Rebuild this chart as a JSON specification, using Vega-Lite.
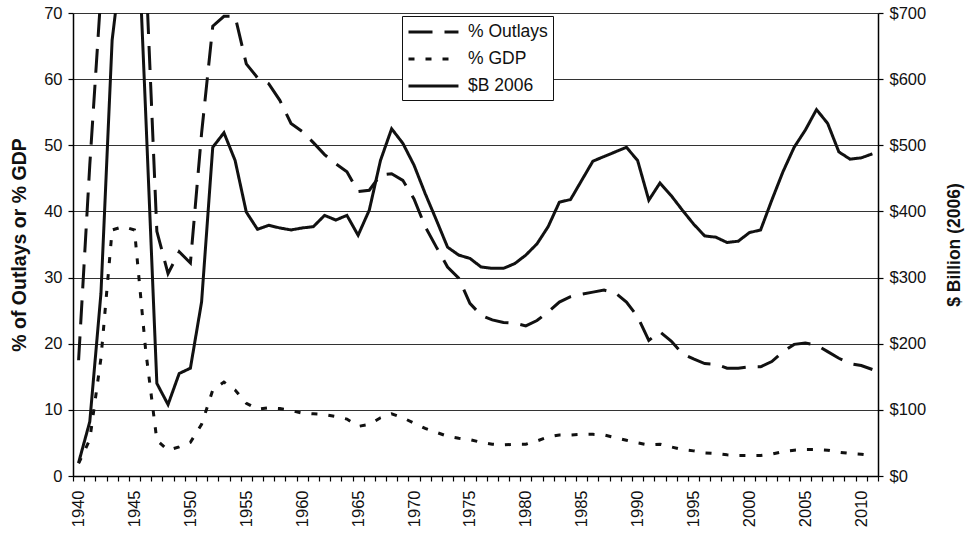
{
  "$schema": "https://vega.github.io/schema/vega-lite/v6.json",
  "width": 805,
  "height": 463,
  "autosize": "none",
  "padding": {"left": 73, "top": 13, "right": 91, "bottom": 58},
  "background": "white",
  "config": {
    "font": "Liberation Sans",
    "view": {"stroke": null},
    "axis": {"labelColor": "#111", "titleColor": "#111", "domainColor": "#000", "tickColor": "#000", "domainWidth": 1.5, "tickWidth": 1.2}
  },
  "data": {"values": [
    {"year":1940,"series":"% Outlays","value":17.5},{"year":1941,"series":"% Outlays","value":47},{"year":1942,"series":"% Outlays","value":73},{"year":1943,"series":"% Outlays","value":85},{"year":1944,"series":"% Outlays","value":87},{"year":1945,"series":"% Outlays","value":89.5},{"year":1946,"series":"% Outlays","value":77},{"year":1947,"series":"% Outlays","value":37},{"year":1948,"series":"% Outlays","value":30.6},{"year":1949,"series":"% Outlays","value":33.9},
    {"year":1950,"series":"% Outlays","value":32.2},{"year":1951,"series":"% Outlays","value":51.8},{"year":1952,"series":"% Outlays","value":68},{"year":1953,"series":"% Outlays","value":69.5},{"year":1954,"series":"% Outlays","value":69.5},{"year":1955,"series":"% Outlays","value":62.3},{"year":1956,"series":"% Outlays","value":60.2},{"year":1957,"series":"% Outlays","value":59.3},{"year":1958,"series":"% Outlays","value":56.8},{"year":1959,"series":"% Outlays","value":53.3},
    {"year":1960,"series":"% Outlays","value":52.1},{"year":1961,"series":"% Outlays","value":50.4},{"year":1962,"series":"% Outlays","value":48.6},{"year":1963,"series":"% Outlays","value":47.2},{"year":1964,"series":"% Outlays","value":46.0},{"year":1965,"series":"% Outlays","value":43.0},{"year":1966,"series":"% Outlays","value":43.2},{"year":1967,"series":"% Outlays","value":45.5},{"year":1968,"series":"% Outlays","value":45.7},{"year":1969,"series":"% Outlays","value":44.7},
    {"year":1970,"series":"% Outlays","value":41.9},{"year":1971,"series":"% Outlays","value":37.7},{"year":1972,"series":"% Outlays","value":34.6},{"year":1973,"series":"% Outlays","value":31.6},{"year":1974,"series":"% Outlays","value":29.9},{"year":1975,"series":"% Outlays","value":26.1},{"year":1976,"series":"% Outlays","value":24.3},{"year":1977,"series":"% Outlays","value":23.6},{"year":1978,"series":"% Outlays","value":23.2},{"year":1979,"series":"% Outlays","value":23.1},
    {"year":1980,"series":"% Outlays","value":22.7},{"year":1981,"series":"% Outlays","value":23.5},{"year":1982,"series":"% Outlays","value":24.8},{"year":1983,"series":"% Outlays","value":26.3},{"year":1984,"series":"% Outlays","value":27.1},{"year":1985,"series":"% Outlays","value":27.5},{"year":1986,"series":"% Outlays","value":27.8},{"year":1987,"series":"% Outlays","value":28.1},{"year":1988,"series":"% Outlays","value":27.7},{"year":1989,"series":"% Outlays","value":26.3},
    {"year":1990,"series":"% Outlays","value":24.1},{"year":1991,"series":"% Outlays","value":20.5},{"year":1992,"series":"% Outlays","value":21.8},{"year":1993,"series":"% Outlays","value":20.4},{"year":1994,"series":"% Outlays","value":18.5},{"year":1995,"series":"% Outlays","value":17.7},{"year":1996,"series":"% Outlays","value":17.0},{"year":1997,"series":"% Outlays","value":16.9},{"year":1998,"series":"% Outlays","value":16.3},{"year":1999,"series":"% Outlays","value":16.3},
    {"year":2000,"series":"% Outlays","value":16.5},{"year":2001,"series":"% Outlays","value":16.5},{"year":2002,"series":"% Outlays","value":17.3},{"year":2003,"series":"% Outlays","value":18.8},{"year":2004,"series":"% Outlays","value":19.9},{"year":2005,"series":"% Outlays","value":20.1},{"year":2006,"series":"% Outlays","value":19.8},{"year":2007,"series":"% Outlays","value":18.8},{"year":2008,"series":"% Outlays","value":17.8},{"year":2009,"series":"% Outlays","value":17.0},
    {"year":2010,"series":"% Outlays","value":16.7},{"year":2011,"series":"% Outlays","value":16.1},
    {"year":1940,"series":"% GDP","value":1.9},{"year":1941,"series":"% GDP","value":5.5},{"year":1942,"series":"% GDP","value":17.8},{"year":1943,"series":"% GDP","value":37.2},{"year":1944,"series":"% GDP","value":37.7},{"year":1945,"series":"% GDP","value":37.2},{"year":1946,"series":"% GDP","value":19},{"year":1947,"series":"% GDP","value":5.4},{"year":1948,"series":"% GDP","value":3.9},{"year":1949,"series":"% GDP","value":4.4},
    {"year":1950,"series":"% GDP","value":5.1},{"year":1951,"series":"% GDP","value":7.8},{"year":1952,"series":"% GDP","value":13.0},{"year":1953,"series":"% GDP","value":14.2},{"year":1954,"series":"% GDP","value":13.0},{"year":1955,"series":"% GDP","value":11.0},{"year":1956,"series":"% GDP","value":10.1},{"year":1957,"series":"% GDP","value":10.3},{"year":1958,"series":"% GDP","value":10.2},{"year":1959,"series":"% GDP","value":9.9},
    {"year":1960,"series":"% GDP","value":9.5},{"year":1961,"series":"% GDP","value":9.4},{"year":1962,"series":"% GDP","value":9.3},{"year":1963,"series":"% GDP","value":9.0},{"year":1964,"series":"% GDP","value":8.6},{"year":1965,"series":"% GDP","value":7.5},{"year":1966,"series":"% GDP","value":7.8},{"year":1967,"series":"% GDP","value":8.8},{"year":1968,"series":"% GDP","value":9.4},{"year":1969,"series":"% GDP","value":8.8},
    {"year":1970,"series":"% GDP","value":8.0},{"year":1971,"series":"% GDP","value":7.2},{"year":1972,"series":"% GDP","value":6.6},{"year":1973,"series":"% GDP","value":6.0},{"year":1974,"series":"% GDP","value":5.7},{"year":1975,"series":"% GDP","value":5.5},{"year":1976,"series":"% GDP","value":5.1},{"year":1977,"series":"% GDP","value":4.8},{"year":1978,"series":"% GDP","value":4.7},{"year":1979,"series":"% GDP","value":4.8},
    {"year":1980,"series":"% GDP","value":4.8},{"year":1981,"series":"% GDP","value":5.3},{"year":1982,"series":"% GDP","value":5.9},{"year":1983,"series":"% GDP","value":6.2},{"year":1984,"series":"% GDP","value":6.2},{"year":1985,"series":"% GDP","value":6.3},{"year":1986,"series":"% GDP","value":6.3},{"year":1987,"series":"% GDP","value":6.2},{"year":1988,"series":"% GDP","value":5.8},{"year":1989,"series":"% GDP","value":5.4},
    {"year":1990,"series":"% GDP","value":5.0},{"year":1991,"series":"% GDP","value":4.7},{"year":1992,"series":"% GDP","value":4.8},{"year":1993,"series":"% GDP","value":4.4},{"year":1994,"series":"% GDP","value":4.0},{"year":1995,"series":"% GDP","value":3.8},{"year":1996,"series":"% GDP","value":3.5},{"year":1997,"series":"% GDP","value":3.4},{"year":1998,"series":"% GDP","value":3.2},{"year":1999,"series":"% GDP","value":3.1},
    {"year":2000,"series":"% GDP","value":3.1},{"year":2001,"series":"% GDP","value":3.1},{"year":2002,"series":"% GDP","value":3.3},{"year":2003,"series":"% GDP","value":3.7},{"year":2004,"series":"% GDP","value":3.9},{"year":2005,"series":"% GDP","value":4.0},{"year":2006,"series":"% GDP","value":4.0},{"year":2007,"series":"% GDP","value":3.9},{"year":2008,"series":"% GDP","value":3.6},{"year":2009,"series":"% GDP","value":3.4},
    {"year":2010,"series":"% GDP","value":3.3},{"year":2011,"series":"% GDP","value":3.1},
    {"year":1940,"series":"$B 2006","value":20},{"year":1941,"series":"$B 2006","value":82},{"year":1942,"series":"$B 2006","value":276},{"year":1943,"series":"$B 2006","value":659},{"year":1944,"series":"$B 2006","value":800},{"year":1945,"series":"$B 2006","value":950},{"year":1946,"series":"$B 2006","value":549},{"year":1947,"series":"$B 2006","value":140},{"year":1948,"series":"$B 2006","value":108},{"year":1949,"series":"$B 2006","value":155},
    {"year":1950,"series":"$B 2006","value":163},{"year":1951,"series":"$B 2006","value":263},{"year":1952,"series":"$B 2006","value":497},{"year":1953,"series":"$B 2006","value":519},{"year":1954,"series":"$B 2006","value":477},{"year":1955,"series":"$B 2006","value":399},{"year":1956,"series":"$B 2006","value":373},{"year":1957,"series":"$B 2006","value":379},{"year":1958,"series":"$B 2006","value":375},{"year":1959,"series":"$B 2006","value":372},
    {"year":1960,"series":"$B 2006","value":375},{"year":1961,"series":"$B 2006","value":377},{"year":1962,"series":"$B 2006","value":394},{"year":1963,"series":"$B 2006","value":387},{"year":1964,"series":"$B 2006","value":394},{"year":1965,"series":"$B 2006","value":364},{"year":1966,"series":"$B 2006","value":402},{"year":1967,"series":"$B 2006","value":477},{"year":1968,"series":"$B 2006","value":525},{"year":1969,"series":"$B 2006","value":503},
    {"year":1970,"series":"$B 2006","value":470},{"year":1971,"series":"$B 2006","value":427},{"year":1972,"series":"$B 2006","value":387},{"year":1973,"series":"$B 2006","value":346},{"year":1974,"series":"$B 2006","value":334},{"year":1975,"series":"$B 2006","value":329},{"year":1976,"series":"$B 2006","value":316},{"year":1977,"series":"$B 2006","value":314},{"year":1978,"series":"$B 2006","value":314},{"year":1979,"series":"$B 2006","value":321},
    {"year":1980,"series":"$B 2006","value":334},{"year":1981,"series":"$B 2006","value":351},{"year":1982,"series":"$B 2006","value":377},{"year":1983,"series":"$B 2006","value":414},{"year":1984,"series":"$B 2006","value":418},{"year":1985,"series":"$B 2006","value":447},{"year":1986,"series":"$B 2006","value":476},{"year":1987,"series":"$B 2006","value":483},{"year":1988,"series":"$B 2006","value":490},{"year":1989,"series":"$B 2006","value":497},
    {"year":1990,"series":"$B 2006","value":477},{"year":1991,"series":"$B 2006","value":417},{"year":1992,"series":"$B 2006","value":443},{"year":1993,"series":"$B 2006","value":424},{"year":1994,"series":"$B 2006","value":402},{"year":1995,"series":"$B 2006","value":381},{"year":1996,"series":"$B 2006","value":363},{"year":1997,"series":"$B 2006","value":361},{"year":1998,"series":"$B 2006","value":353},{"year":1999,"series":"$B 2006","value":355},
    {"year":2000,"series":"$B 2006","value":368},{"year":2001,"series":"$B 2006","value":372},{"year":2002,"series":"$B 2006","value":417},{"year":2003,"series":"$B 2006","value":460},{"year":2004,"series":"$B 2006","value":497},{"year":2005,"series":"$B 2006","value":523},{"year":2006,"series":"$B 2006","value":554},{"year":2007,"series":"$B 2006","value":533},{"year":2008,"series":"$B 2006","value":490},{"year":2009,"series":"$B 2006","value":479},
    {"year":2010,"series":"$B 2006","value":481},{"year":2011,"series":"$B 2006","value":487}
  ]},
  "encoding": {
    "x": {
      "field": "year", "type": "ordinal", "bandPosition": 0.5,
      "scale": {"type": "band", "paddingInner": 0, "paddingOuter": 0},
      "axis": {
        "title": null, "labelAngle": 270, "labelAlign": "right", "labelBaseline": "middle",
        "labelExpr": "datum.value % 5 === 0 ? datum.label : ''",
        "labelFontSize": 16.5, "labelPadding": 9, "labelOverlap": false,
        "tickBand": "extent", "tickSize": 5, "grid": false
      }
    }
  },
  "layer": [
    {
      "transform": [{"filter": "datum.series !== '$B 2006'"}],
      "mark": {"type": "line", "clip": true, "strokeWidth": 3, "color": "#111"},
      "encoding": {
        "y": {
          "field": "value", "type": "quantitative",
          "scale": {"domain": [0, 70], "nice": false},
          "axis": {
            "title": "% of Outlays or % GDP", "titleFontSize": 19.5, "titleFontWeight": "bold", "titlePadding": 14,
            "values": [0, 10, 20, 30, 40, 50, 60, 70], "labelFontSize": 16.5, "labelPadding": 6, "tickSize": 5,
            "grid": true, "gridColor": "#333", "gridWidth": 1
          }
        },
        "strokeDash": {
          "field": "series", "type": "nominal",
          "scale": {"domain": ["% Outlays", "% GDP", "$B 2006"], "range": [[24, 12], [6, 11], [1, 0]]},
          "legend": {
            "title": null, "orient": "none", "legendX": 329, "legendY": 3,
            "fillColor": "white", "strokeColor": "#111", "padding": 5,
            "symbolType": "M-1,0H4.26", "symbolSize": 361, "symbolStrokeWidth": 3, "symbolStrokeColor": "#111",
            "labelFontSize": 17.5, "labelOffset": 39, "rowPadding": 7, "labelColor": "#111"
          }
        }
      }
    },
    {
      "transform": [{"filter": "datum.series === '$B 2006'"}],
      "mark": {"type": "line", "clip": true, "strokeWidth": 3, "color": "#111"},
      "encoding": {
        "y": {
          "field": "value", "type": "quantitative",
          "scale": {"domain": [0, 700], "nice": false},
          "axis": {
            "orient": "right", "title": "$ Billion (2006)", "titleFontSize": 17.5, "titleFontWeight": "bold",
            "titleAngle": 270, "titleBaseline": "top", "titlePadding": 20,
            "values": [0, 100, 200, 300, 400, 500, 600, 700], "labelExpr": "'$' + datum.value",
            "labelFontSize": 16.5, "labelPadding": 6, "tickSize": 5, "grid": false
          }
        },
        "strokeDash": {"field": "series", "type": "nominal"}
      }
    }
  ],
  "resolve": {"scale": {"y": "independent"}}
}
